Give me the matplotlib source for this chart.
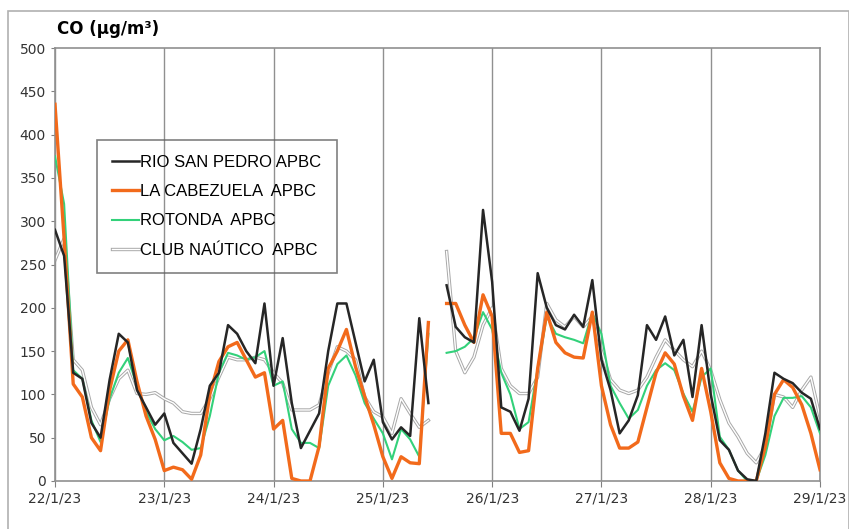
import numpy as np
import matplotlib
matplotlib.use("Agg")
import matplotlib.pyplot as plt
import matplotlib.patheffects as pe
from matplotlib.patches import Rectangle

nan = np.nan
# readings every 2 hours, 22/1/23 00:00 -> 29/1/23 00:00
hours = np.arange(0, 169, 2)

rio = [290, 260, 125, 118, 67, 50, 117, 170, 160, 105, 85, 65,
       78, 44, 32, 20, 60, 110, 125, 180, 170, 150, 136, 205,
       110, 165, 90, 38, 58, 78, 150, 205, 205, 160, 115, 140,
       68, 48, 62, 52, 188, 90, nan, 226, 178, 166, 160, 313,
       230, 85, 80, 58, 95, 240, 200, 180, 175, 192, 178, 232,
       140, 105, 55, 70, 99, 180, 163, 190, 145, 163, 97, 180,
       100, 47, 36, 12, 2, 0, 55, 125, 118, 113, 102, 95, 60]

cabezuela = [435, 280, 112, 97, 50, 35, 105, 150, 163, 115, 75, 48,
             12, 16, 13, 2, 30, 100, 138, 155, 160, 140, 120, 125,
             60, 70, 3, 0, 0, 40, 130, 150, 175, 132, 98, 65,
             28, 3, 28, 21, 20, 183, nan, 205, 205, 180, 160, 215,
             190, 55, 55, 33, 35, 130, 195, 160, 148, 143, 142, 195,
             110, 65, 38, 38, 45, 85, 125, 148, 135, 98, 70, 130,
             80, 21, 3, 0, 0, 0, 40, 100, 117, 108, 88, 55, 13]

rotonda = [375, 320, 128, 118, 70, 45, 95, 125, 142, 110, 80, 60,
           47, 52, 45, 36, 38, 75, 125, 148, 145, 140, 143, 150,
           110, 115, 60, 44, 44, 38, 110, 135, 145, 122, 90, 72,
           55, 25, 60, 48, 28, 170, nan, 148, 150, 155, 165, 195,
           175, 125, 100, 60, 68, 130, 190, 170, 166, 163, 159, 194,
           170, 110, 90, 72, 82, 110, 128, 136, 128, 101, 80, 120,
           130, 51, 36, 12, 0, 0, 30, 75, 96, 96, 98, 85, 55]

nautico = [255, 280, 140, 128, 85, 65, 95, 118, 128, 101, 100, 102,
           95, 90, 80, 78, 78, 95, 120, 143, 140, 140, 143, 140,
           125, 113, 82, 82, 82, 88, 125, 155, 150, 140, 97, 80,
           74, 55, 95, 78, 62, 70, nan, 265, 150, 125, 143, 180,
           200, 130, 110, 101, 101, 120, 205, 186, 178, 190, 178, 190,
           150, 117, 105, 101, 105, 120, 143, 163, 151, 140, 132, 150,
           128, 94, 67, 51, 32, 21, 40, 100, 97, 85, 105, 120, 74]

day_labels = ["22/1/23", "23/1/23", "24/1/23", "25/1/23",
              "26/1/23", "27/1/23", "28/1/23", "29/1/23"]

fig = plt.figure(figsize=(8.49, 5.29), dpi=100)
plt.rcParams['font.family'] = ['DejaVu Sans']
ax = fig.add_axes([55/849, 48/529, 765/849, 433/529])

# outer chart frame
fig.patches.append(Rectangle((8/849, -0.01), 0.99, 1 - 11/529 + 0.01,
                             transform=fig.transFigure, fill=False,
                             edgecolor='#b0b0b0', lw=1.2))

ax.plot(hours, nautico, color='white', lw=1.0, zorder=2,
        path_effects=[pe.Stroke(linewidth=2.4, foreground='#a8a8a8'), pe.Normal()],
        label='CLUB NAÚTICO  APBC')
ax.plot(hours, rotonda, color='#33d17a', lw=1.5, zorder=3, label='ROTONDA  APBC')
ax.plot(hours, cabezuela, color='#f26a1b', lw=2.4, zorder=4, label='LA CABEZUELA  APBC')
ax.plot(hours, rio, color='#262626', lw=1.8, zorder=5, label='RIO SAN PEDRO APBC')

ax.set_xlim(0, 168)
ax.set_ylim(0, 500)
ax.set_xticks(np.arange(0, 169, 24))
ax.set_xticklabels(day_labels, fontsize=10)
ax.set_yticks(np.arange(0, 501, 50))
ax.tick_params(axis='y', labelsize=10, length=3, color='#808080', labelcolor='#333333')
ax.tick_params(axis='x', length=4, color='#808080', labelcolor='#333333')
ax.grid(axis='x', color='#909090', lw=1.0)
for s in ax.spines.values():
    s.set_color('#909090')
    s.set_linewidth(1.2)

ax.text(0.003, 1.022, 'CO (µg/m³)', transform=ax.transAxes, fontsize=12,
        fontweight='bold', ha='left', va='bottom')

h, l = ax.get_legend_handles_labels()
order = [3, 2, 1, 0]
leg = ax.legend([h[i] for i in order], [l[i] for i in order],
                loc='upper left', bbox_to_anchor=(0.055, 0.7875),
                prop={'family': 'Liberation Sans', 'size': 12},
                frameon=True, fancybox=False,
                handlelength=1.6, handletextpad=0.1, labelspacing=0.85,
                borderpad=0.9, borderaxespad=0)
leg.get_frame().set_facecolor('none')
leg.get_frame().set_edgecolor('#606060')
leg.get_frame().set_linewidth(1.2)

fig.savefig('out.png', dpi=100)
